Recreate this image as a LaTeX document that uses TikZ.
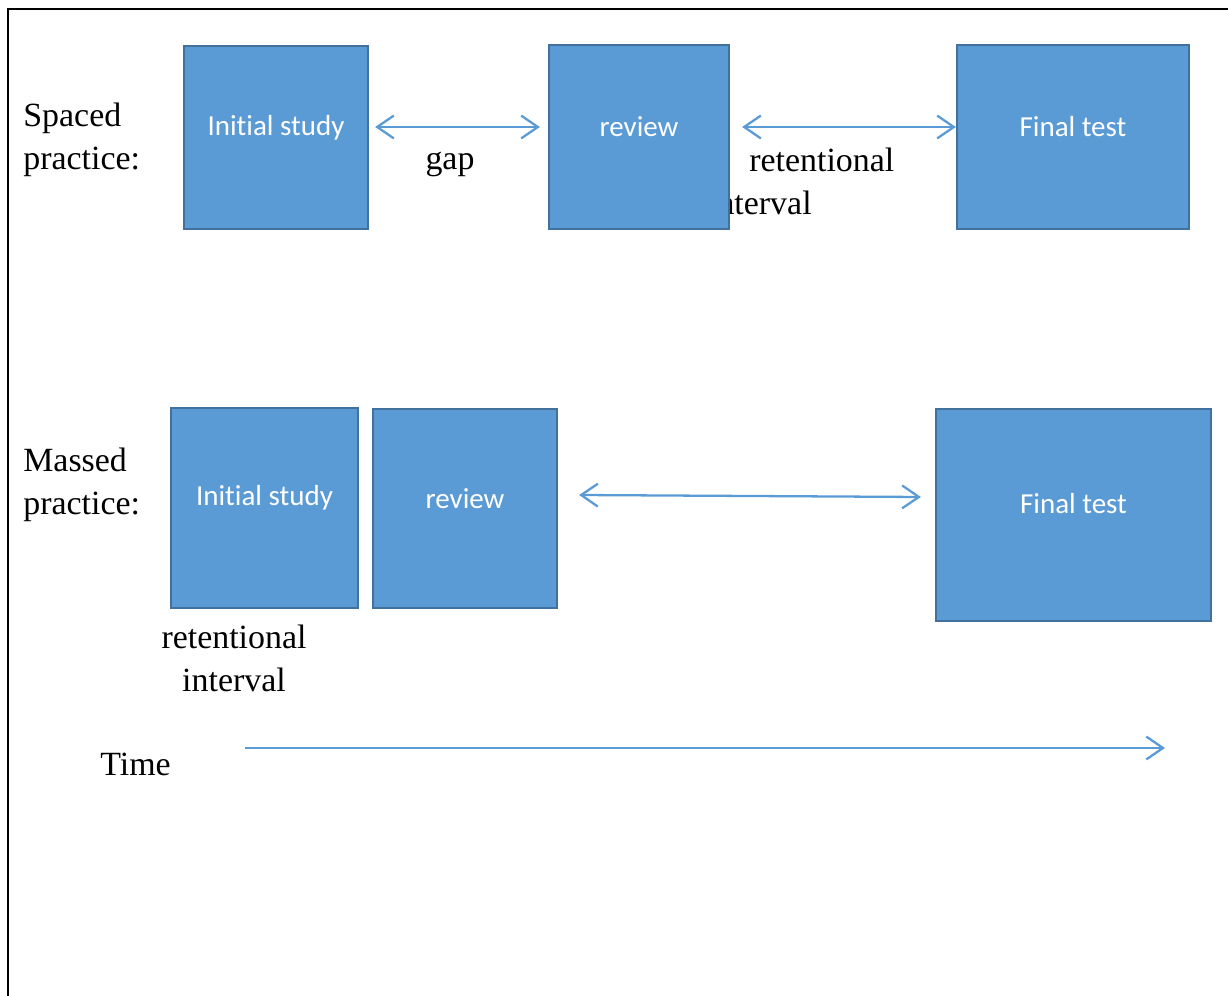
\documentclass[tikz,border=0pt]{standalone}
\usepackage{fontspec}
\setmainfont{Liberation Serif}
\newfontfamily\boxfont[Ligatures={NoCommon,NoRequired,NoContextual,NoRare}]{Carlito}
\usetikzlibrary{arrows.meta,calc}
\definecolor{boxblue}{HTML}{5B9BD5}
\definecolor{boxedge}{HTML}{41719C}

\begin{document}
\begin{tikzpicture}[x=0.02cm, y=-0.02cm,
        card/.style={draw=boxedge, line width=1.3pt, fill=boxblue},
        cardtext/.style={text=white, font=\boxfont\fontsize{16.5}{20}\selectfont, yshift=0.2cm},
        txt/.style={font=\fontsize{19.3}{24.4}\selectfont, inner sep=0pt},
        link/.style={boxblue, line width=1.3pt, {Straight Barb[length=9.5pt, width=13pt]}-{Straight Barb[length=9.5pt, width=13pt]}}]
        \useasboundingbox (0,0) rectangle (1228,996);
        \draw[line width=1.4pt] (8,996) -- (8,9) -- (1228,9);

        % spaced practice
        \node[txt, anchor=west, align=left] (spaced) at (23,140) {Spaced\\practice:};
        \node[txt] (gap) at (450,164) {gap};
        \node[txt, anchor=west] (ret1) at (749,160) {retentional};
        \node[txt, anchor=east] (int1) at (812,203) {interval};

        \node[card, minimum width=3.68cm, minimum height=3.66cm, label={[cardtext, name=t1]center:Initial study}] (study1) at (276,137.5) {};
        \node[card, minimum width=3.6cm, minimum height=3.68cm, label={[cardtext, name=t2]center:review}] (review1) at (639,137) {};
        \node[card, minimum width=4.64cm, minimum height=3.68cm, label={[cardtext, name=t3]center:Final test}] (final1) at (1073,137) {};

        \draw[link] ($(study1.east)+(6,-10.5)$) -- ($(review1.west)+(-8,-10)$);
        \draw[link] ($(review1.east)+(12,-10)$) -- ($(final1.west)+(0,-10)$);

        % massed practice
        \node[txt, anchor=west, align=left] (massed) at (23,485) {Massed\\practice:};
        \node[txt, align=center] (ret2) at (234,658) {retentional\\interval};

        \node[card, minimum width=3.74cm, minimum height=4cm, label={[cardtext, name=t4]center:Initial study}] (study2) at (264.5,508) {};
        \node[card, minimum width=3.68cm, minimum height=3.98cm, label={[cardtext, name=t5]center:review}] (review2) at (465,508.5) {};
        \node[card, minimum width=5.5cm, minimum height=4.24cm, label={[cardtext, name=t6, yshift=0.02cm]center:Final test}] (final2) at (1073.5,515) {};

        \draw[link] ($(review2.east)+(21,-13.5)$) -- ($(final2.west)+(-14,-18)$);

        % time axis
        \node[txt, anchor=west] (time) at (100,764) {Time};
        \coordinate (t0) at (245,748);
        \coordinate (t1) at (1165,748);
        \draw[boxblue, line width=1.3pt, -{Straight Barb[length=9.5pt, width=13pt]}] (t0) -- (t1);
    \end{tikzpicture}
\end{document}
